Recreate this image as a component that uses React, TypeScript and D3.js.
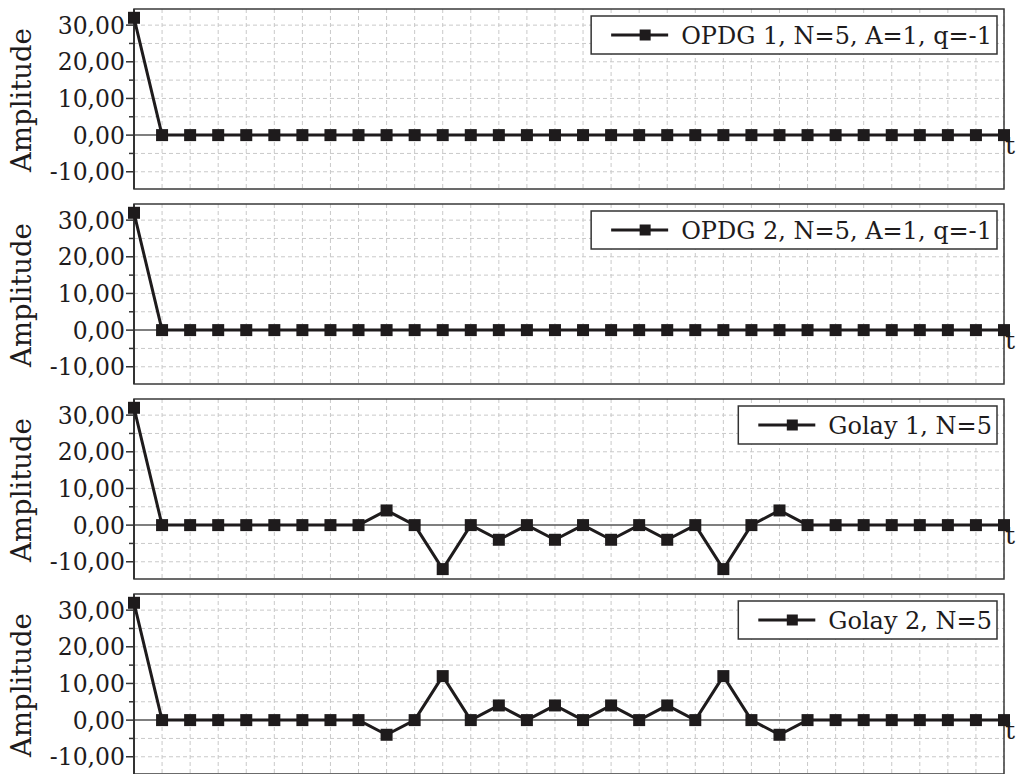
import React from "react";
import * as d3 from "d3";

// lag index (t)
const lags = [0, 1, 2, 3, 4, 5, 6, 7, 8, 9, 10, 11, 12, 13, 14, 15, 16, 17, 18, 19, 20, 21, 22, 23, 24, 25, 26, 27, 28, 29, 30, 31];

const opdg1 = [32, 0, 0, 0, 0, 0, 0, 0, 0, 0, 0, 0, 0, 0, 0, 0, 0, 0, 0, 0, 0, 0, 0, 0, 0, 0, 0, 0, 0, 0, 0, 0];
const opdg2 = [32, 0, 0, 0, 0, 0, 0, 0, 0, 0, 0, 0, 0, 0, 0, 0, 0, 0, 0, 0, 0, 0, 0, 0, 0, 0, 0, 0, 0, 0, 0, 0];
const golay1 = [32, 0, 0, 0, 0, 0, 0, 0, 0, 4, 0, -12, 0, -4, 0, -4, 0, -4, 0, -4, 0, -12, 0, 4, 0, 0, 0, 0, 0, 0, 0, 0];
const golay2 = [32, 0, 0, 0, 0, 0, 0, 0, 0, -4, 0, 12, 0, 4, 0, 4, 0, 4, 0, 4, 0, 12, 0, -4, 0, 0, 0, 0, 0, 0, 0, 0];

const panelNames = ["OPDG 1, N=5, A=1, q=-1", "OPDG 2, N=5, A=1, q=-1", "Golay 1, N=5", "Golay 2, N=5"];
const panelData = [opdg1, opdg2, golay1, golay2];

const majorTicks = [30, 20, 10, 0, -10];
const minorTicks = [25, 15, 5, -5];
const gridValues = [30, 25, 20, 15, 10, 5, -5, -10];

const W = 1016;
const H = 774;
const left = 134;
const right = 1004;
const panelH = 180;
const panelTops = [9, 204, 399, 594];
const ink = "#1e1b1c";
const font = "'DejaVu Serif', serif";

const fmt = (v: number) => d3.format(".2f")(v).replace(".", ",").replace("−", "-");

function textWidth(s: string, size: number) {
  const c = document.createElement("canvas").getContext("2d");
  if (!c) return s.length * size * 0.55;
  c.font = `${size}px 'DejaVu Serif'`;
  return c.measureText(s).width;
}

function Panel({ top, values, name }: { top: number; values: number[]; name: string }) {
  const x = d3.scaleLinear().domain([lags[0], lags[lags.length - 1]]).range([left, right]);
  const y = d3.scaleLinear().domain([-14.7, 34.4]).range([top + panelH, top]);
  const line = d3
    .line<number>()
    .x((_, i) => x(lags[i]))
    .y((d) => y(d));

  const legendSize = 24;
  const tw = textWidth(name, legendSize);
  const boxRight = 997;
  const boxLeft = boxRight - 5 - tw - 90;
  const boxTop = top + 7;
  const boxBottom = top + 45;
  const midY = (boxTop + boxBottom) / 2;

  return (
    <g>
      {/* grid */}
      {lags.slice(1).map((l) => (
        <line key={"v" + l} x1={x(l)} x2={x(l)} y1={top} y2={top + panelH} stroke="#c9c9c9" strokeDasharray="4,3" />
      ))}
      {gridValues.map((v) => (
        <line key={"h" + v} x1={left} x2={right} y1={y(v)} y2={y(v)} stroke="#c9c9c9" strokeDasharray="4,3" />
      ))}
      {/* zero line */}
      <line x1={left} x2={right} y1={y(0)} y2={y(0)} stroke="#555" strokeWidth={1.5} />
      {/* frame */}
      <rect x={left} y={top} width={right - left} height={panelH} fill="none" stroke="#3a3a3a" strokeWidth={1.5} />
      <line x1={left} x2={left} y1={top} y2={top + panelH} stroke="#333" strokeWidth={2} />
      {/* y ticks */}
      {majorTicks.map((v) => (
        <g key={"t" + v}>
          <line x1={left - 8} x2={left} y1={y(v)} y2={y(v)} stroke="#333" strokeWidth={1.5} />
          <text x={left - 9} y={y(v)} dy="0.36em" textAnchor="end" fontFamily={font} fontSize={23.5} fill={ink}>
            {fmt(v)}
          </text>
        </g>
      ))}
      {minorTicks.map((v) => (
        <line key={"m" + v} x1={left - 5} x2={left} y1={y(v)} y2={y(v)} stroke="#333" strokeWidth={1.5} />
      ))}
      <text
        transform={`translate(31,${top + 91}) rotate(-90)`}
        textAnchor="middle"
        fontFamily={font}
        fontSize={27.5}
        fill={ink}
      >
        Amplitude
      </text>
      {/* series */}
      <path d={line(values) || ""} fill="none" stroke={ink} strokeWidth={3} strokeLinejoin="round" />
      {values.map((v, i) => (
        <rect key={"p" + i} x={x(lags[i]) - 6} y={y(v) - 6} width={12} height={12} fill={ink} />
      ))}
      <text x={1005} y={y(0) + 19} fontFamily={font} fontSize={25} fill={ink}>
        t
      </text>
      {/* legend */}
      <rect x={boxLeft} y={boxTop} width={boxRight - boxLeft} height={boxBottom - boxTop} fill="#fff" stroke="#333" strokeWidth={1.5} />
      <line x1={boxLeft + 20} x2={boxLeft + 77} y1={midY} y2={midY} stroke={ink} strokeWidth={3} />
      <rect x={boxLeft + 54 - 5.5} y={midY - 5.5} width={11} height={11} fill={ink} />
      <text x={boxLeft + 90} y={midY} dy="0.36em" fontFamily={font} fontSize={legendSize} fill={ink}>
        {name}
      </text>
    </g>
  );
}

export default function App() {
  return (
    <svg width={W} height={H} style={{ position: "absolute", left: 0, top: 0, background: "#fff" }}>
      <rect width={W} height={H} fill="#fff" />
      {panelTops.map((t, i) => (
        <Panel key={i} top={t} values={panelData[i]} name={panelNames[i]} />
      ))}
    </svg>
  );
}
